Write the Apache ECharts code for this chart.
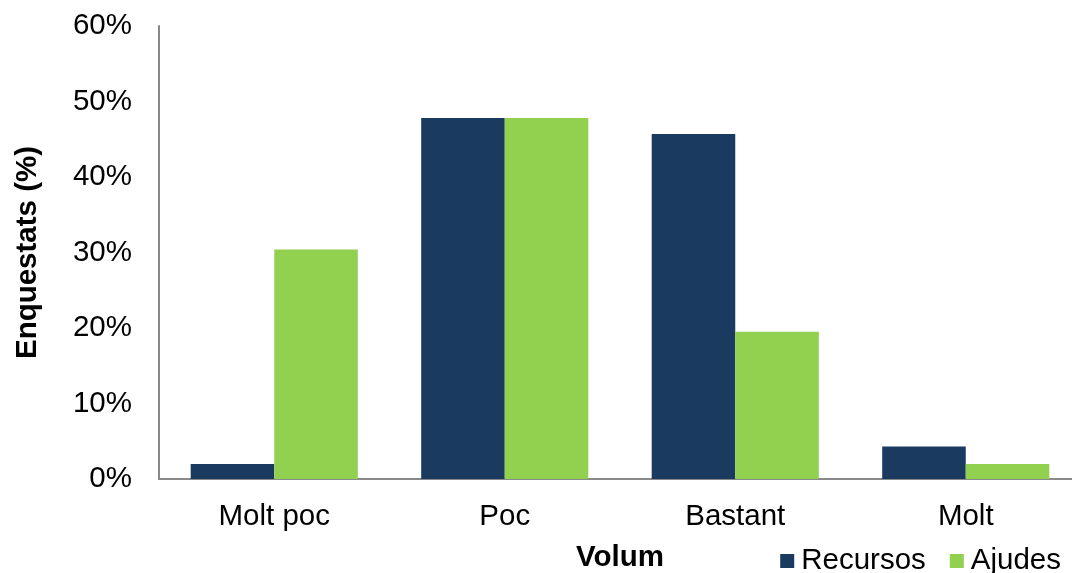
<!DOCTYPE html>
<html><head><meta charset="utf-8">
<script src="https://cdn.jsdelivr.net/npm/echarts@6/dist/echarts.min.js"></script>
<style>html,body{margin:0;padding:0;background:#fff;overflow:hidden}#c{width:1072px;height:573px}</style>
</head><body><div id="c"></div>
<script>
const categories = ["Molt poc", "Poc", "Bastant", "Molt"];
const recursos = [2.0, 47.8, 45.7, 4.3];
const ajudes = [30.4, 47.8, 19.5, 2.0];
const yTicks = [0, 10, 20, 30, 40, 50, 60];

const chart = echarts.init(document.getElementById('c'));
const font = '"Liberation Sans", Arial, sans-serif';
const fs = 29.5;
chart.setOption({
  animation: false,
  textStyle: { fontFamily: font },
  grid: { left: 159, right: -9, top: 26, bottom: 94, containLabel: false, outerBoundsMode: 'none' },
  legend: {
    right: 6, bottom: -8, itemWidth: 14, itemHeight: 14, itemGap: 24,
    icon: 'rect',
    textStyle: { fontSize: fs, color: '#000', fontFamily: font, padding: [0, 0, 0, 2] },
    data: ['Recursos', 'Ajudes']
  },
  xAxis: {
    type: 'category', data: categories,
    name: 'Volum', nameLocation: 'middle', nameGap: 64,
    nameTextStyle: { fontSize: fs, fontWeight: 'bold', color: '#000', fontFamily: font },
    axisLine: { lineStyle: { color: '#898989', width: 2 } },
    axisTick: { show: false },
    axisLabel: { fontSize: fs, color: '#000', margin: 23, fontFamily: font }
  },
  yAxis: {
    type: 'value', min: 0, max: 60, interval: 10,
    name: 'Enquestats (%)', nameLocation: 'middle', nameGap: 116,
    nameTextStyle: { fontSize: fs, fontWeight: 'bold', color: '#000', fontFamily: font },
    axisLine: { show: true, lineStyle: { color: '#898989', width: 2 } },
    axisTick: { show: false },
    splitLine: { show: false },
    axisLabel: { fontSize: fs, color: '#000', margin: 27, fontFamily: font,
      formatter: v => yTicks.includes(v) ? v + '%' : '' }
  },
  series: [
    { name: 'Recursos', type: 'bar', data: recursos, barGap: '0%', barCategoryGap: '27.5%',
      itemStyle: { color: '#1B3A5F' } },
    { name: 'Ajudes', type: 'bar', data: ajudes,
      itemStyle: { color: '#92D050' } }
  ]
});
</script></body></html>
